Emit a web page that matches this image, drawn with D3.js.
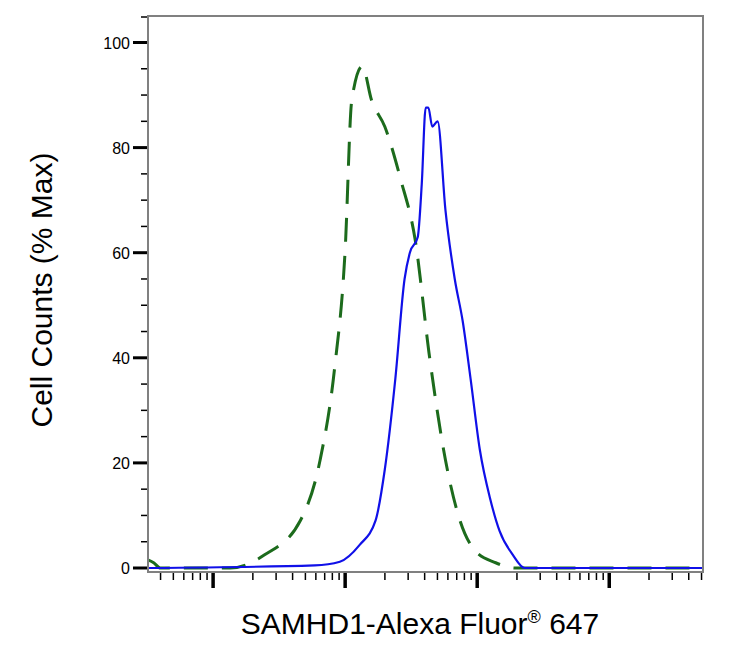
<!DOCTYPE html>
<html><head><meta charset="utf-8">
<script src="https://cdn.jsdelivr.net/npm/d3@7"></script>
<style>body{margin:0;background:#fff}</style></head>
<body><svg id="c" width="740" height="650"></svg>
<script>
// x values are log10 of fluorescence intensity
const greenLog = [0.51,0.55,0.60,1.13,1.39,1.66,1.81,1.92,2.00,2.05,2.13,2.20,2.30,2.42,2.53,2.64,2.76,2.87,2.98,3.14,3.29,4.71];
const greenPct = [1.5,1,0,0,2.5,9,20.5,38,60.5,89,95.5,89,84,74,62.5,40,20.5,9,3.4,1,0,0];
const blueLog = [0.51,1.77,1.96,2.11,2.23,2.30,2.38,2.45,2.49,2.55,2.58,2.61,2.63,2.66,2.70,2.76,2.83,2.89,2.95,3.02,3.10,3.17,3.27,3.36,4.71];
const bluePct = [0,0.5,1.2,4.4,9,18.7,36,55,60,63,73,87.6,87.6,84,85,68,55,47,36,22.5,13,7,2.5,0,0];
const yTicks = [0,20,40,60,80,100];
const decades = [1,2,3,4];

const svg = d3.select('#c');
const pL = 148, pR = 703, pT = 16, pB = 572;
const x = d3.scaleLinear().domain([0.507, 4.71]).range([pL, pR]);
const y = d3.scaleLinear().domain([0, 100]).range([568, 42.5]);

// minor log ticks
const minor = [];
for (let d = 0; d <= 4; d++) for (let k = 2; k <= 9; k++) {
  const v = d + Math.log10(k);
  if (v > 0.507 && v < 4.71) minor.push(v);
}
svg.selectAll('.mx').data(minor).enter().append('line')
  .attr('x1', d => x(d)).attr('x2', d => x(d)).attr('y1', pB).attr('y2', pB + 8)
  .attr('stroke', '#000').attr('stroke-width', 1.5);
svg.selectAll('.Mx').data(decades).enter().append('line')
  .attr('x1', d => x(d)).attr('x2', d => x(d)).attr('y1', pB).attr('y2', pB + 16)
  .attr('stroke', '#000').attr('stroke-width', 3.5);

// y ticks
const yMinor = d3.range(0, 105, 5).filter(v => v % 20 !== 0);
svg.selectAll('.my').data(yMinor).enter().append('line')
  .attr('x1', pL - 7).attr('x2', pL).attr('y1', d => y(d)).attr('y2', d => y(d))
  .attr('stroke', '#000').attr('stroke-width', 1.5);
svg.append('line').attr('x1', pL - 7).attr('x2', pL).attr('y1', 17).attr('y2', 17)
  .attr('stroke', '#000').attr('stroke-width', 1.5);
svg.selectAll('.My').data(yTicks).enter().append('line')
  .attr('x1', pL - 15).attr('x2', pL).attr('y1', d => y(d)).attr('y2', d => y(d))
  .attr('stroke', '#000').attr('stroke-width', 3);
svg.selectAll('.yl').data(yTicks).enter().append('text')
  .attr('x', pL - 18).attr('y', d => y(d) + 6).attr('text-anchor', 'end')
  .attr('font-family', 'Liberation Sans, Arial, sans-serif').attr('font-size', 16)
  .text(d => d);

svg.append('clipPath').attr('id', 'cp').append('rect')
  .attr('x', pL).attr('y', pT).attr('width', pR - pL).attr('height', pB - pT);

const line = d3.line().x(d => x(d[0])).y(d => y(d[1])).curve(d3.curveMonotoneX);
svg.append('path').attr('clip-path', 'url(#cp)')
  .attr('d', line(greenLog.map((v, i) => [v, greenPct[i]])))
  .attr('fill', 'none').attr('stroke', '#1c6b1c').attr('stroke-width', 3)
  .attr('stroke-dasharray', '24,14');
svg.append('path').attr('clip-path', 'url(#cp)')
  .attr('d', line(blueLog.map((v, i) => [v, bluePct[i]])))
  .attr('fill', 'none').attr('stroke', '#1010e8').attr('stroke-width', 2.2);

// frame
svg.append('rect').attr('x', pL).attr('y', pT).attr('width', pR - pL).attr('height', pB - pT)
  .attr('fill', 'none').attr('stroke', '#808080').attr('stroke-width', 2);

svg.append('text').attr('transform', 'translate(52,290) rotate(-90)').attr('text-anchor', 'middle')
  .attr('font-family', 'Liberation Sans, Arial, sans-serif').attr('font-size', 30)
  .text('Cell Counts (% Max)');
const xl = svg.append('text').attr('x', 420).attr('y', 634).attr('text-anchor', 'middle')
  .attr('font-family', 'Liberation Sans, Arial, sans-serif').attr('font-size', 30);
xl.append('tspan').text('SAMHD1-Alexa Fluor');
xl.append('tspan').attr('font-size', 18).attr('dy', -11).text('®');
xl.append('tspan').attr('dy', 11).text(' 647');
</script></body></html>
